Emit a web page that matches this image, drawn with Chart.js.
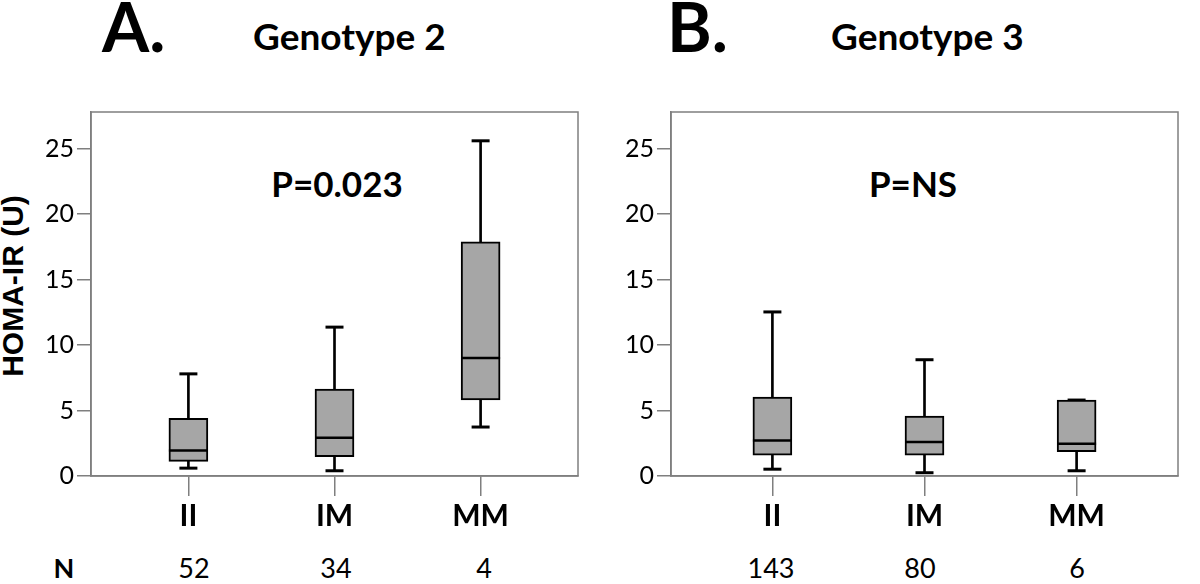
<!DOCTYPE html>
<html>
<head>
<meta charset="utf-8">
<script src="https://cdn.jsdelivr.net/npm/chart.js@4.4.1/dist/chart.umd.min.js"></script>
<style>
  body { margin: 0; background: #fff; width: 1200px; height: 584px; position: relative; overflow: hidden; }
  .t { position: absolute; white-space: nowrap; color: #000; }
  .c { text-align: center; }
  canvas { position: absolute; top: 90px; }
</style>
</head>
<body>
<div class="t" style="left:102px;top:-8px;font:bold 68px/1 Lato">A.</div>
<div class="t" style="left:253px;top:17px;font:bold 37px/1 Lato">Genotype 2</div>
<div class="t" style="left:667px;top:-8px;font:bold 68px/1 Lato">B.</div>
<div class="t" style="left:831px;top:17px;font:bold 37px/1 Lato">Genotype 3</div>

<div class="t c" style="left:-137px;top:271px;width:300px;font:bold 30px/30px 'Liberation Sans';transform:rotate(-90deg)">HOMA-IR (U)</div>

<div class="t c" style="left:187px;top:166px;width:300px;font:bold 35px/1 Lato">P=0.023</div>
<div class="t c" style="left:763px;top:166px;width:300px;font:bold 35px/1 Lato">P=NS</div>

<canvas id="g2" width="600" height="450" style="left:0"></canvas>
<canvas id="g3" width="600" height="450" style="left:600px"></canvas>

<div id="nrow"></div>

<script>
// ── Data (HOMA-IR) ──────────────────────────────────────────────────────────
const categories = ["II", "IM", "MM"];
const yTicks     = [0, 5, 10, 15, 20, 25];

// Genotype 2
const g2Min    = [0.60, 0.40, 3.74];
const g2Q1     = [1.12, 1.47, 5.81];
const g2Median = [1.94, 2.92, 9.02];
const g2Q3     = [4.41, 6.63, 17.88];
const g2Max    = [7.80, 11.37, 25.60];
const g2N      = [52, 34, 4];

// Genotype 3
const g3Min    = [0.52, 0.25, 0.40];
const g3Q1     = [1.59, 1.59, 1.86];
const g3Median = [2.71, 2.60, 2.46];
const g3Q3     = [6.03, 4.57, 5.80];
const g3Max    = [12.53, 8.88, 5.80];
const g3N      = [143, 80, 6];

const AXIS_GREY = "#7f7f7f";
const BOX_FILL  = "#a6a6a6";

// grey frame round the plot area
const framePlugin = {
  id: "frame",
  beforeDatasetsDraw(chart) {
    const { ctx, chartArea: a } = chart;
    ctx.save();
    ctx.strokeStyle = AXIS_GREY;
    ctx.lineWidth = 1.5;
    ctx.strokeRect(a.left, a.top, a.right - a.left, a.bottom - a.top);
    ctx.restore();
  }
};

function boxChart(id, mins, q1, med, q3, maxs, axisWidth, pad) {
  const at = (arr) => arr.map((v, i) => ({ x: i + 1, y: v }));
  return new Chart(document.getElementById(id), {
    type: "bar",
    data: {
      datasets: [
        { type: "scatter", label: "median", data: at(med), pointStyle: "line", pointRadius: 19.5,
          borderColor: "#000", pointBorderWidth: 2.5, order: 0 },
        { type: "bar", label: "box", data: categories.map((c, i) => ({ x: i + 1, y: [q1[i], q3[i]] })),
          backgroundColor: BOX_FILL, borderColor: "#000", borderWidth: 2, borderSkipped: false,
          barThickness: 39, grouped: false, order: 1 },
        { type: "scatter", label: "caps", data: at(mins).concat(at(maxs)), pointStyle: "line", pointRadius: 9,
          borderColor: "#000", pointBorderWidth: 3, order: 2 },
        { type: "bar", label: "whisker", data: categories.map((c, i) => ({ x: i + 1, y: [mins[i], maxs[i]] })),
          backgroundColor: "#000", borderWidth: 0, barThickness: 2, grouped: false, order: 3 }
      ]
    },
    options: {
      responsive: false,
      animation: false,
      layout: { padding: pad },
      plugins: { legend: { display: false }, tooltip: { enabled: false } },
      scales: {
        x: {
          type: "linear", min: 1 / 3, max: 11 / 3, offset: false,
          afterBuildTicks: s => { s.ticks = categories.map((c, i) => ({ value: i + 1 })); },
          afterFit: s => { s.height = 64; },
          ticks: { callback: v => categories[v - 1], color: "#000", padding: 2, maxRotation: 0, autoSkip: false,
                   font: { family: "Lato", weight: "bold", size: 30 } },
          grid: { offset: false, drawOnChartArea: false, tickLength: 20, color: AXIS_GREY, lineWidth: 1.5 },
          border: { color: AXIS_GREY, width: 1.5 }
        },
        y: {
          min: 0, max: 27.8,
          afterBuildTicks: s => { s.ticks = yTicks.map(v => ({ value: v })); },
          afterFit: s => { s.width = axisWidth; },
          ticks: { color: "#000", padding: 3, font: { family: "Lato", size: 25 } },
          grid: { drawOnChartArea: false, tickLength: 14, color: AXIS_GREY, lineWidth: 1.5 },
          border: { color: AXIS_GREY, width: 1.5 }
        }
      }
    },
    plugins: [framePlugin]
  });
}

boxChart("g2", g2Min, g2Q1, g2Median, g2Q3, g2Max, 91, { top: 14, right: 9, left: 0, bottom: 0 });
boxChart("g3", g3Min, g3Q1, g3Median, g3Q3, g3Max, 71, { top: 13, right: 3, left: 0, bottom: 0 });

// N row under the category labels
const nrow = document.getElementById("nrow");
const nCentres = [194, 336, 484, 771, 920, 1077];
const addText = (txt, cx, bold) => {
  const d = document.createElement("div");
  d.className = "t c";
  d.style.cssText = `left:${cx - 50}px;top:554px;width:100px;font:${bold ? "bold " : ""}27px/1 Lato`;
  d.textContent = txt;
  nrow.appendChild(d);
};
addText("N", 64, true);
g2N.concat(g3N).forEach((n, i) => addText(String(n), nCentres[i], false));
</script>
</body>
</html>
